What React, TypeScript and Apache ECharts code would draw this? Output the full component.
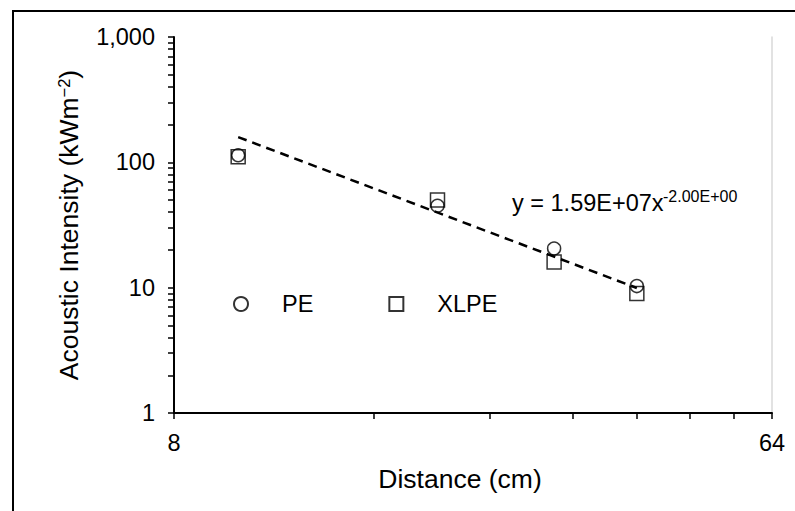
import React, { useEffect, useRef } from "react";
import * as echarts from "echarts";

const distances = [10, 20, 30, 40];
const peValues = [114, 45, 20.5, 10.3];
const xlpeValues = [111, 50, 16, 9];
const trendDistances = [10, 40];
const trendValues = [159, 9.94];
const xTickValues = [8, 16, 24, 32, 40, 48, 56, 64];
const xLabelValues = [8, 64];
const yTickValues = [
  1, 2, 3, 4, 5, 6, 7, 8, 9,
  10, 20, 30, 40, 50, 60, 70, 80, 90,
  100, 200, 300, 400, 500, 600, 700, 800, 900, 1000,
];
const yLabelValues = [1, 10, 100, 1000];
const equationMain = "y = 1.59E+07x";
const equationExp = "-2.00E+00";

const FONT = "'Liberation Sans', Arial, sans-serif";

export default function App() {
  const ref = useRef<HTMLDivElement>(null);
  useEffect(() => {
    if (!ref.current) return;
    const chart = echarts.init(ref.current, null, { renderer: "svg" });
    const axisLine = { show: true, lineStyle: { color: "#000", width: 2 } };
    chart.setOption({
      animation: false,
      backgroundColor: "#fff",
      textStyle: { fontFamily: FONT },
      grid: { left: 174, top: 37, right: 23, bottom: 98, containLabel: false },
      legend: {
        left: 228,
        top: 287,
        itemWidth: 14,
        itemHeight: 14,
        itemGap: 75,
        data: [
          { name: "PE", icon: "circle" },
          { name: "XLPE", icon: "rect" },
        ],
        textStyle: { fontFamily: FONT, fontSize: 23.5, color: "#000", padding: [0, 0, 0, 29] },
      },
      xAxis: {
        type: "log",
        logBase: 2,
        min: 8,
        max: 64,
        name: "Distance (cm)",
        nameLocation: "middle",
        nameGap: 52,
        nameTextStyle: { fontFamily: FONT, fontSize: 26.5, color: "#000", padding: [0, 26, 0, 0] },
        axisLine,
        axisTick: { show: true, inside: false, length: 6, customValues: xTickValues, lineStyle: { color: "#000", width: 1.5 } },
        axisLabel: {
          customValues: xLabelValues,
          margin: 18,
          fontFamily: FONT,
          fontSize: 23.5,
          color: "#000",
          formatter: (v: number) => String(v),
        },
        splitLine: { show: false },
      },
      yAxis: [
        {
          type: "log",
          logBase: 10,
          min: 1,
          max: 1000,
          name: "{a|Acoustic Intensity (kWm}{s|−2}{a|)}",
          nameLocation: "middle",
          nameRotate: 90,
          nameGap: 92,
          nameTextStyle: {
            color: "#000",
            rich: {
              a: { fontFamily: FONT, fontSize: 26.5, color: "#000" },
              s: { fontFamily: FONT, fontSize: 16.5, color: "#000", verticalAlign: "top" },
            },
          },
          axisLine,
          axisTick: { show: true, inside: false, length: 6, customValues: yTickValues, lineStyle: { color: "#000", width: 1.5 } },
          axisLabel: {
            customValues: yLabelValues,
            margin: 19,
            fontFamily: FONT,
            fontSize: 23.5,
            color: "#000",
            formatter: (v: number) => v.toLocaleString("en-US"),
          },
          splitLine: { show: false },
        },
        {
          type: "log",
          logBase: 10,
          min: 1,
          max: 1000,
          position: "right",
          axisLine: { show: true, lineStyle: { color: "#d9d9d9", width: 1.5 } },
          axisTick: { show: false },
          axisLabel: { show: false },
          splitLine: { show: false },
        },
      ],
      graphic: [
        {
          type: "rect",
          shape: { x: 13, y: 11, width: 800, height: 520 },
          style: { fill: "none", stroke: "#000", lineWidth: 2 },
          silent: true,
          z: 100,
        },
        {
          type: "text",
          x: 512,
          y: 202.5,
          style: { text: equationMain, fontFamily: FONT, fontSize: 23.5, fill: "#000", verticalAlign: "middle", align: "left" },
        },
        {
          type: "text",
          x: 663,
          y: 196,
          style: { text: equationExp, fontFamily: FONT, fontSize: 16, fill: "#000", verticalAlign: "middle", align: "left" },
        },
      ],
      series: [
        {
          name: "trend",
          type: "line",
          data: trendDistances.map((d, i) => [d, trendValues[i]]),
          showSymbol: false,
          symbol: "none",
          lineStyle: { color: "#000", width: 2.5, type: [9, 6] },
          z: 1,
        },
        {
          name: "PE",
          type: "scatter",
          symbol: "circle",
          symbolSize: 13,
          data: distances.map((d, i) => [d, peValues[i]]),
          itemStyle: { color: "transparent", borderColor: "#000", borderWidth: 1.5 },
          z: 3,
        },
        {
          name: "XLPE",
          type: "scatter",
          symbol: "rect",
          symbolSize: 14,
          data: distances.map((d, i) => [d, xlpeValues[i]]),
          itemStyle: { color: "transparent", borderColor: "#000", borderWidth: 1.5 },
          z: 3,
        },
      ],
    });
    return () => chart.dispose();
  }, []);
  return (
    <div
      ref={ref}
      style={{ position: "absolute", left: 0, top: 0, width: 795, height: 511 }}
    />
  );
}
